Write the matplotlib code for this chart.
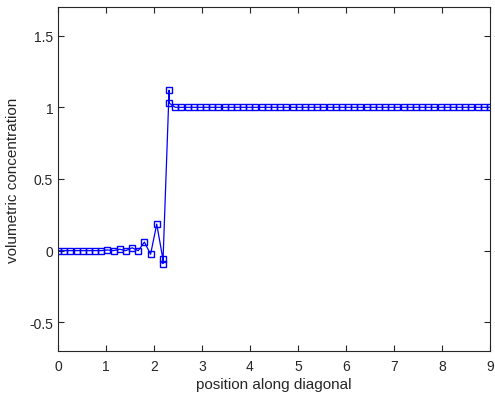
import numpy as np
import matplotlib
matplotlib.use('Agg')
import matplotlib.pyplot as plt

# data (71 grid positions, two samples at 2 positions)
step = 9 / 70
idx = list(range(0, 18)) + [17] + [18, 18] + list(range(19, 71))
position = [i * step for i in idx]
conc_left = [0.0, 0.0, 0.0, 0.0, 0.0, 0.0, 0.0, 0.0, 0.005, 0.0,
             0.01, 0.0, 0.02, 0.0, 0.06, -0.025, 0.185, -0.06, -0.09]
conc_jump = [1.12, 1.03]
conc_right = [1.0] * 52
concentration = conc_left + conc_jump + conc_right

xticks = list(range(0, 10))
yticks = [-0.5, 0, 0.5, 1, 1.5]
ytick_labels = ['-0.5', '0', '0.5', '1', '1.5']

plt.rcParams['font.family'] = ['Liberation Sans', 'DejaVu Sans']
fig = plt.figure(figsize=(4.95, 4.02), dpi=100)
ax = fig.add_axes([58 / 495, 1 - 352 / 402, 432 / 495, 344 / 402])

ax.plot(position, concentration, color='#0000ff', linewidth=0.9,
        marker='s', markersize=5, markerfacecolor='none',
        markeredgecolor='#0000ff', markeredgewidth=1.0)

ax.set_xlim(0, 9)
ax.set_ylim(-0.7, 1.7)
ax.set_xticks(xticks)
ax.set_xticklabels([str(t) for t in xticks])
ax.set_yticks(yticks)
ax.set_yticklabels(ytick_labels)

dark = '#262626'
for s in ax.spines.values():
    s.set_color(dark)
    s.set_linewidth(0.8)
ax.tick_params(direction='in', top=True, right=True, length=4, width=0.8,
               color=dark, labelcolor=dark, labelsize=10)
ax.tick_params(axis='x', pad=6)
ax.set_xlabel('position along diagonal', fontsize=11, color=dark, labelpad=3)
ax.set_ylabel('volumetric concentration', fontsize=11, color=dark, labelpad=7)

fig.savefig('out.png', dpi=100)
